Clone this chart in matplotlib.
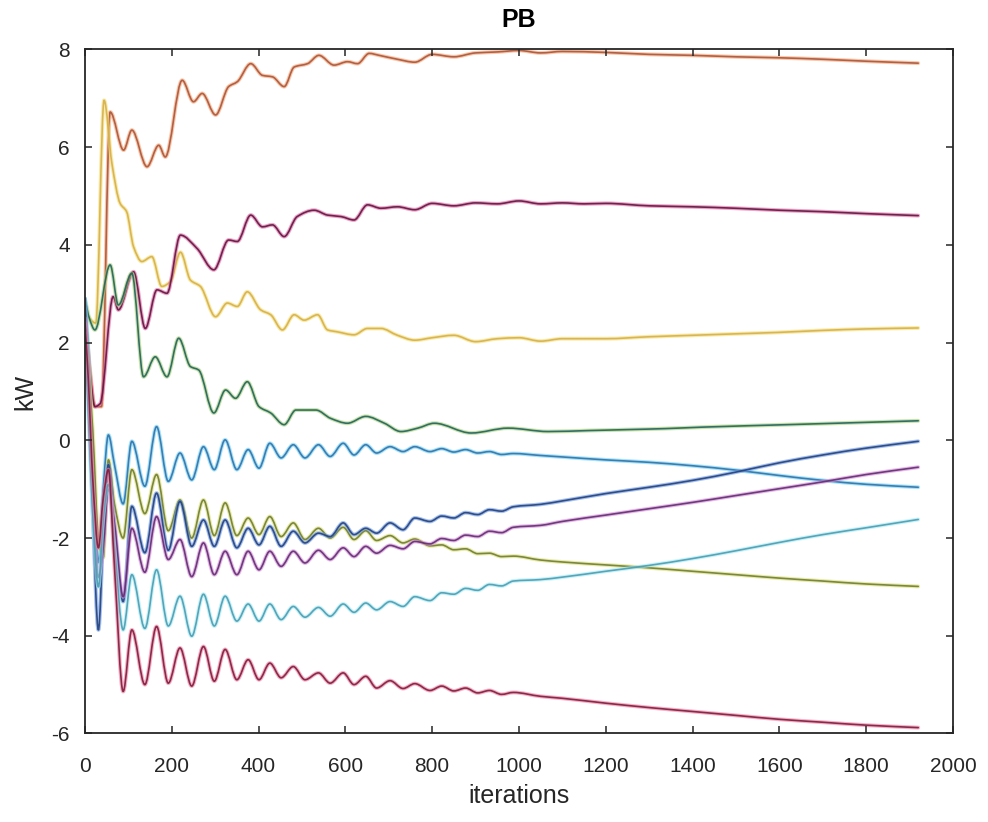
import numpy as np
import matplotlib
matplotlib.use("Agg")
import matplotlib.pyplot as plt
from matplotlib.path import Path
from matplotlib.patches import PathPatch

# Iteration grid for the six lower series (peaks / troughs of the damped oscillation)
iters_low = [0, 8, 18, 31, 42, 54, 68, 88, 108, 138, 165, 192, 219, 246, 273, 298,
             323, 350, 376, 401, 426, 452, 480, 507, 538, 565, 595, 620, 647, 672,
             703, 733, 760, 795, 822, 850, 877, 905, 932, 960, 987, 1050, 1100,
             1200, 1300, 1400, 1500, 1600, 1700, 1800, 1920]

pb_blue = [2.9, 1.8, -0.5, -2.5, -1.0, 0.11, -0.5, -1.3, -0.02, -0.94, 0.28, -0.84,
           -0.26, -0.81, -0.13, -0.60, 0.01, -0.60, -0.19, -0.57, -0.06, -0.36, -0.09,
           -0.36, -0.09, -0.33, -0.06, -0.30, -0.09, -0.26, -0.13, -0.23, -0.13, -0.23,
           -0.17, -0.24, -0.19, -0.26, -0.23, -0.29, -0.27, -0.31, -0.34, -0.40, -0.45,
           -0.52, -0.61, -0.72, -0.82, -0.90, -0.96]

pb_navy = [2.9, 1.0, -1.5, -3.88, -2.0, -0.5, -1.8, -3.3, -1.35, -2.3, -1.08, -2.25,
           -1.25, -2.17, -1.63, -2.17, -1.63, -2.20, -1.80, -2.14, -1.76, -2.17, -1.86,
           -2.10, -1.90, -1.97, -1.69, -1.93, -1.80, -1.90, -1.69, -1.83, -1.59, -1.66,
           -1.55, -1.59, -1.48, -1.52, -1.42, -1.45, -1.36, -1.31, -1.24, -1.09, -0.96,
           -0.82, -0.65, -0.46, -0.30, -0.16, -0.02]

pb_olive = [2.7, 1.5, 0.2, -2.0, -2.4, -0.4, -1.3, -2.0, -0.60, -1.5, -0.7, -1.85,
            -1.22, -2.00, -1.22, -1.95, -1.28, -1.95, -1.59, -1.93, -1.56, -1.97, -1.69,
            -2.03, -1.80, -2.00, -1.78, -2.03, -1.85, -2.05, -1.95, -2.10, -2.02, -2.16,
            -2.14, -2.24, -2.22, -2.32, -2.31, -2.38, -2.37, -2.45, -2.49, -2.55, -2.61,
            -2.68, -2.75, -2.82, -2.88, -2.94, -2.99]

pb_purple = [2.5, 0.8, -1.0, -2.8, -2.2, -1.0, -1.7, -3.2, -1.8, -2.7, -1.56, -2.44,
             -2.03, -2.79, -2.10, -2.75, -2.27, -2.75, -2.27, -2.65, -2.27, -2.58, -2.27,
             -2.51, -2.25, -2.44, -2.20, -2.38, -2.17, -2.31, -2.15, -2.22, -2.07, -2.12,
             -2.01, -2.05, -1.94, -1.97, -1.86, -1.89, -1.78, -1.74, -1.66, -1.53, -1.40,
             -1.27, -1.13, -0.99, -0.85, -0.70, -0.55]

pb_cyan = [2.2, 0.5, -1.5, -3.0, -1.6, -0.9, -2.2, -3.88, -2.75, -3.85, -2.65, -3.80,
           -3.19, -4.01, -3.15, -3.80, -3.19, -3.70, -3.35, -3.70, -3.35, -3.67, -3.40,
           -3.62, -3.42, -3.60, -3.35, -3.52, -3.33, -3.47, -3.30, -3.40, -3.20, -3.28,
           -3.12, -3.15, -3.03, -3.07, -2.95, -2.98, -2.88, -2.85, -2.80, -2.68, -2.56,
           -2.42, -2.26, -2.09, -1.93, -1.79, -1.62]

pb_red = [2.4, 1.2, -0.8, -2.2, -1.2, -0.6, -2.6, -5.14, -3.88, -5.00, -3.81, -4.97,
          -4.25, -5.03, -4.22, -4.93, -4.28, -4.90, -4.49, -4.90, -4.56, -4.86, -4.63,
          -4.90, -4.76, -4.97, -4.76, -5.00, -4.83, -5.07, -4.92, -5.08, -4.98, -5.12,
          -5.03, -5.13, -5.07, -5.17, -5.12, -5.20, -5.16, -5.24, -5.28, -5.38, -5.47,
          -5.55, -5.63, -5.71, -5.77, -5.83, -5.88]

# Upper four series, each on its own iteration list
iters_orange = [0, 10, 23, 38, 58, 89, 108, 143, 170, 185, 224, 250, 270, 301, 331,
                351, 382, 409, 432, 459, 482, 513, 539, 574, 605, 628, 655, 678, 720,
                760, 800, 850, 900, 950, 1000, 1050, 1100, 1200, 1300, 1400, 1500,
                1600, 1700, 1800, 1920]
pb_orange = [2.6, 1.6, 0.69, 0.69, 6.72, 5.94, 6.35, 5.60, 6.04, 5.80, 7.37, 6.93,
             7.10, 6.66, 7.24, 7.34, 7.71, 7.47, 7.44, 7.24, 7.64, 7.71, 7.88, 7.68,
             7.75, 7.71, 7.92, 7.88, 7.80, 7.74, 7.90, 7.85, 7.93, 7.95, 7.98, 7.93,
             7.96, 7.94, 7.90, 7.88, 7.85, 7.83, 7.80, 7.76, 7.72]

iters_magenta = [0, 10, 23, 35, 65, 77, 112, 139, 166, 189, 220, 258, 297, 331, 351,
                 382, 409, 432, 459, 489, 528, 559, 590, 620, 651, 682, 720, 760, 800,
                 850, 900, 950, 1000, 1050, 1100, 1150, 1200, 1300, 1400, 1500, 1600,
                 1700, 1800, 1920]
pb_magenta = [2.6, 1.5, 0.69, 0.75, 2.94, 2.67, 3.45, 2.29, 3.08, 3.01, 4.20, 3.93,
              3.49, 4.10, 4.07, 4.61, 4.37, 4.41, 4.17, 4.58, 4.71, 4.61, 4.58, 4.51,
              4.82, 4.75, 4.78, 4.72, 4.85, 4.80, 4.86, 4.84, 4.90, 4.84, 4.86, 4.84,
              4.85, 4.80, 4.78, 4.75, 4.71, 4.68, 4.64, 4.60]

iters_yellow = [0, 25, 44, 62, 81, 96, 112, 131, 154, 177, 197, 220, 243, 266, 301,
                328, 351, 374, 405, 428, 455, 482, 505, 536, 559, 582, 620, 651, 682,
                720, 760, 800, 850, 900, 950, 1000, 1050, 1100, 1200, 1300, 1400, 1500,
                1600, 1700, 1800, 1920]
pb_yellow = [2.6, 2.4, 6.96, 5.67, 4.85, 4.68, 3.96, 3.66, 3.76, 3.15, 3.25, 3.85,
             3.28, 3.15, 2.53, 2.81, 2.74, 3.04, 2.67, 2.57, 2.26, 2.57, 2.46, 2.57,
             2.26, 2.22, 2.16, 2.29, 2.29, 2.15, 2.05, 2.10, 2.15, 2.02, 2.08, 2.10,
             2.03, 2.08, 2.08, 2.12, 2.15, 2.18, 2.21, 2.25, 2.28, 2.30]

iters_teal = [0, 10, 23, 58, 77, 108, 135, 162, 189, 216, 243, 262, 297, 324, 347,
              374, 401, 428, 459, 486, 532, 566, 605, 647, 690, 728, 767, 805, 890,
              975, 1067, 1160, 1252, 1337, 1422, 1615, 1769, 1920]
pb_teal = [2.9, 2.5, 2.26, 3.59, 2.77, 3.42, 1.30, 1.71, 1.30, 2.09, 1.51, 1.44, 0.56,
           1.03, 0.86, 1.20, 0.69, 0.56, 0.32, 0.62, 0.62, 0.45, 0.35, 0.49, 0.35, 0.18,
           0.25, 0.35, 0.15, 0.25, 0.18, 0.20, 0.22, 0.24, 0.27, 0.32, 0.36, 0.40]

# (x, y, base colour, overlay colour) in drawing order
series = [
    (iters_orange, pb_orange, "#F5A274", "#A8553A"),
    (iters_yellow, pb_yellow, "#F6DC70", "#D4B04C"),
    (iters_magenta, pb_magenta, "#E466A4", "#5E1640"),
    (iters_teal, pb_teal, "#A6D070", "#22625F"),
    (iters_low, pb_blue, "#6ED0F6", "#2F72A8"),
    (iters_low, pb_olive, "#DADC6E", "#6E7C34"),
    (iters_low, pb_navy, "#6A98E4", "#25407A"),
    (iters_low, pb_purple, "#D888D8", "#5E2E70"),
    (iters_low, pb_cyan, "#A2E8F4", "#4A9CB0"),
    (iters_low, pb_red, "#F07CA0", "#7C1C3C"),
]


def smooth_path(x, y):
    """Monotone cubic (Fritsch-Carlson) Bezier path through every data point."""
    x = np.asarray(x, float)
    y = np.asarray(y, float)
    h = np.diff(x)
    d = np.diff(y) / h
    m = np.zeros_like(y)
    m[0], m[-1] = d[0], d[-1]
    for i in range(1, len(y) - 1):
        if d[i - 1] * d[i] > 0:
            w1 = 2 * h[i] + h[i - 1]
            w2 = h[i] + 2 * h[i - 1]
            m[i] = (w1 + w2) / (w1 / d[i - 1] + w2 / d[i])
    verts = [(x[0], y[0])]
    codes = [Path.MOVETO]
    for i in range(len(x) - 1):
        verts += [(x[i] + h[i] / 3, y[i] + m[i] * h[i] / 3),
                  (x[i + 1] - h[i] / 3, y[i + 1] - m[i + 1] * h[i] / 3),
                  (x[i + 1], y[i + 1])]
        codes += [Path.CURVE4] * 3
    return Path(verts, codes)


plt.rcParams["font.family"] = ["Liberation Sans", "DejaVu Sans"]
plt.rcParams["axes.unicode_minus"] = False

fig = plt.figure(figsize=(9.88, 8.22), dpi=100)
ax = fig.add_axes([0.086, 0.1077, 0.8785, 0.8321])

for x, y, base, over in series:
    p = smooth_path(x, y)
    ax.add_patch(PathPatch(p, fill=False, edgecolor=base, lw=2.8, alpha=0.6,
                           capstyle="round", joinstyle="round"))
    ax.add_patch(PathPatch(p, fill=False, edgecolor=over, lw=1.2, alpha=0.9,
                           capstyle="round", joinstyle="round"))

ax.set_xlim(0, 2000)
ax.set_ylim(-6, 8)
ax.set_xticks(range(0, 2001, 200))
ax.set_yticks(range(-6, 9, 2))

axis_col = "#262626"
for s in ax.spines.values():
    s.set_color(axis_col)
    s.set_linewidth(1.3)
ax.tick_params(direction="in", length=5, width=1.1, colors=axis_col,
               labelsize=15, top=True, right=True)
ax.tick_params(axis="x", pad=17)
ax.tick_params(axis="y", pad=11)

ax.set_xlabel("iterations", fontsize=18, color=axis_col, labelpad=6)
ax.set_ylabel("kW", fontsize=18, color=axis_col, labelpad=10)
ax.set_title("PB", fontsize=18, fontweight="bold", color="#000000", pad=16)

fig.savefig("out.png", dpi=100, facecolor="white")
